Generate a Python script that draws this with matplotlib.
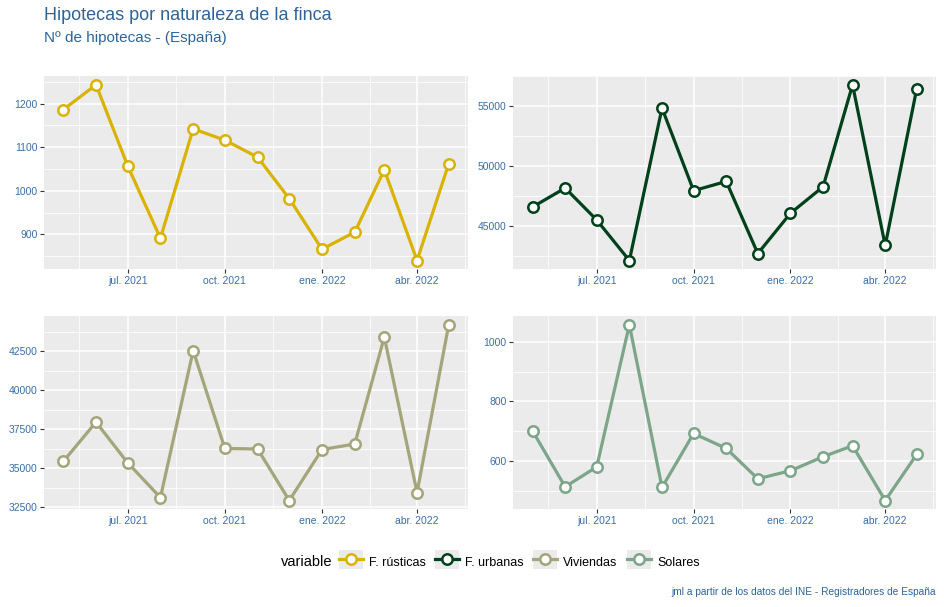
import numpy as np
import pandas as pd
import matplotlib
matplotlib.use('Agg')
import matplotlib.pyplot as plt
from matplotlib.lines import Line2D
from matplotlib.patches import Rectangle
from matplotlib.legend_handler import HandlerLine2D

plt.rcParams['font.family'] = ['Liberation Sans', 'DejaVu Sans']

# Monthly data, May 2021 - May 2022
months = pd.date_range('2021-05-01', '2022-05-01', freq='MS')
rusticas = [1186, 1243, 1057, 891, 1142, 1116, 1077, 982, 866, 905, 1048, 840, 1062]
urbanas = [46600, 48180, 45520, 42150, 54830, 47960, 48730, 42730, 46080, 48290, 56770, 43400, 56460]
viviendas = [35430, 37950, 35340, 33110, 42540, 36260, 36230, 32920, 36190, 36550, 43410, 33430, 44200]
solares = [701, 513, 580, 1057, 511, 692, 642, 540, 567, 614, 651, 467, 622]

series_names = ['F. rústicas', 'F. urbanas', 'Viviendas', 'Solares']
series_values = [rusticas, urbanas, viviendas, solares]
series_colors = ['#D9B300', '#00411B', '#A3A57A', '#7CA58A']

y_ticks = [[900, 1000, 1100, 1200],
           [45000, 50000, 55000],
           [32500, 35000, 37500, 40000, 42500],
           [600, 800, 1000]]
x_ticks = pd.to_datetime(['2021-07-01', '2021-10-01', '2022-01-01', '2022-04-01'])
x_labels = ['jul. 2021', 'oct. 2021', 'ene. 2022', 'abr. 2022']
x_minor = pd.to_datetime(['2021-05-16', '2021-08-16', '2021-11-16', '2022-02-15', '2022-05-16'])

tick_color = '#3A6EA5'
title_color = '#2E6496'

W, H = 944, 607
fig = plt.figure(figsize=(W / 100, H / 100), dpi=100)

# panel boxes in pixels: left, top, right, bottom
boxes = [(44, 76, 468, 269.3), (513.3, 76, 936, 269.3),
         (44, 316, 468, 509.3), (513.3, 316, 936, 509.3)]

for i, (name, vals, col) in enumerate(zip(series_names, series_values, series_colors)):
    l, t, r, b = boxes[i]
    ax = fig.add_axes([l / W, 1 - b / H, (r - l) / W, (b - t) / H])
    ax.set_facecolor('#EBEBEB')
    ax.plot(months, vals, color=col, lw=2.3, marker='o', markersize=7.5,
            markerfacecolor='white', markeredgecolor=col, markeredgewidth=1.8, zorder=3)
    ax.margins(x=0.05, y=0.05)
    yt = y_ticks[i]
    ax.set_yticks(yt)
    step = yt[1] - yt[0]
    ylo, yhi = ax.get_ylim()
    ymin = [v + step / 2 for v in np.arange(yt[0] - 3 * step, yt[-1] + 3 * step, step)]
    ymin = [v for v in ymin if ylo < v < yhi]
    ax.set_yticks(ymin, minor=True)
    ax.set_xticks(x_ticks)
    ax.set_xticklabels(x_labels)
    ax.set_xticks(x_minor, minor=True)
    ax.set_ylim(ylo, yhi)
    ax.grid(which='major', color='white', lw=1.1)
    ax.grid(which='minor', color='white', lw=0.55)
    ax.set_axisbelow(True)
    for s in ax.spines.values():
        s.set_visible(False)
    ax.tick_params(which='major', length=2.75, width=0.8, color='#333333',
                   labelsize=7.5, labelcolor=tick_color, pad=2)
    ax.tick_params(which='minor', length=0)

fig.text(44 / W, 1 - 15 / H, 'Hipotecas por naturaleza de la finca', fontsize=13,
         color=title_color, va='center', ha='left')
fig.text(44 / W, 1 - 38 / H, 'Nº de hipotecas - (España)', fontsize=11,
         color=title_color, va='center', ha='left')


class KeyHandler(HandlerLine2D):
    # grey key background like ggplot's legend.key
    def create_artists(self, legend, orig_handle, xdescent, ydescent, width, height, fontsize, trans):
        bg = Rectangle((-xdescent, -ydescent / 2), width, height,
                       facecolor='#EBEBEB', edgecolor='none', transform=trans, zorder=0)
        arts = super().create_artists(legend, orig_handle, xdescent, ydescent,
                                      width, height, fontsize, trans)
        return [bg] + arts


handles = [Line2D([], [], color=c, lw=2.3, marker='o', markersize=7.5,
                  markerfacecolor='white', markeredgecolor=c, markeredgewidth=1.8)
           for c in series_colors]
fig.text(281 / W, 1 - 562 / H, 'variable', fontsize=10.5, va='center', ha='left')
fig.legend(handles, series_names, loc='center left', bbox_to_anchor=(339 / W, 1 - 562 / H),
           ncol=4, frameon=False, fontsize=9, handlelength=1.9, handleheight=1.9,
           handletextpad=0.5, columnspacing=0.75, borderpad=0, borderaxespad=0,
           handler_map={Line2D: KeyHandler(numpoints=1)})

fig.text(936 / W, 1 - 592 / H, 'jml a partir de los datos del INE - Registradores de España',
         fontsize=7.3, color=title_color, va='center', ha='right')

fig.savefig('out.png', dpi=100)
